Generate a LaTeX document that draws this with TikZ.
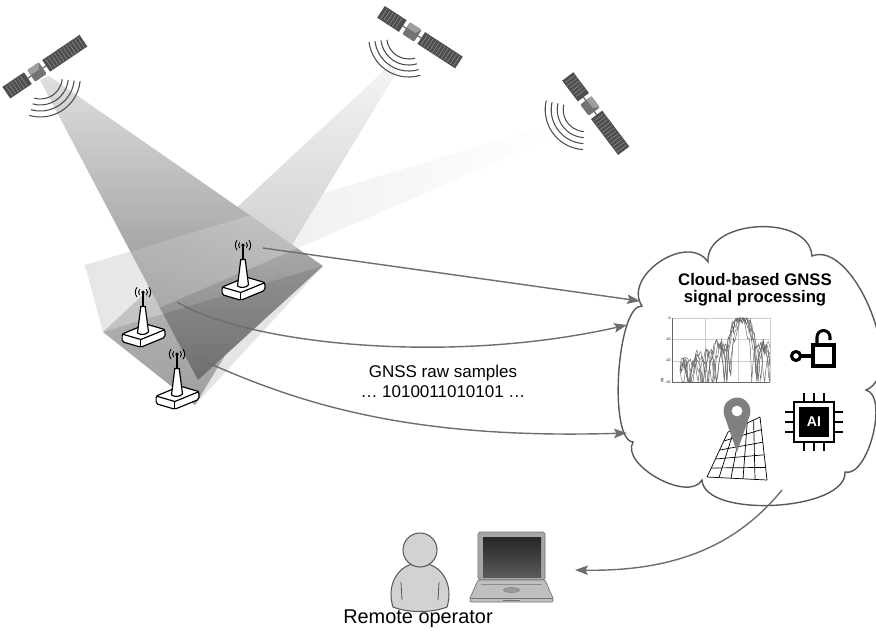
\documentclass[tikz,border=0pt]{standalone}
\usepackage{fontspec}
\setmainfont{Liberation Sans}
\usetikzlibrary{arrows.meta,calc}

\definecolor{linegray}{HTML}{6E6E6E}
\definecolor{panelgray}{HTML}{4E4E4E}
\definecolor{cellgray}{HTML}{8C8C8C}
\definecolor{pingray}{HTML}{808080}
\definecolor{skin}{HTML}{D2D2D2}

\tikzset{
  conn/.style={draw=linegray, line width=1.2pt, -{Stealth[length=11pt,width=8pt,inset=2pt]}},
  wave/.style={draw=black!70, line width=0.9pt},
  icon/.style={line width=2.6pt},
  pics/satellite/.style={code={
    % rod and solar panels
    \draw[black!60, line width=1pt] (-11,0) -- (11,0);
    \fill[panelgray] (-37,-7) rectangle (-11,7);
    \fill[panelgray] (11,-7) rectangle (56,7);
    \foreach \cx in {-33.5,-30,...,-13}
      \draw[cellgray, line width=0.5pt] (\cx,-6) -- (\cx,6);
    \foreach \cx in {14.5,18,...,53}
      \draw[cellgray, line width=0.5pt] (\cx,-6) -- (\cx,6);
    % body
    \fill[black!55, rounded corners=1pt] (-7,-7) rectangle (7,7);
    \fill[black!38] (-7,-7) -- (7,-7) -- (3,-1) -- (-7,-1) -- cycle;
    % signal
    \foreach \r in {22,28,34,40}
      \draw[wave] ($(0,6)+(40:\r)$) arc[start angle=40, end angle=140, radius=\r];
  }},
  pics/receiver/.style={code={
    % base
    \draw[fill=white, line width=1pt, rounded corners=1.5pt]
      (-19,0) -- (3,-9) -- (20,-4) -- (20,3) -- (-2,12) -- (-19,7) -- cycle;
    \draw[line width=1pt] (-19,0) -- (-2,5) -- (20,-4);
    \draw[line width=1pt] (-2,5) -- (-2,12);
    % mast
    \draw[fill=white, line width=1pt] (-5,-1) -- (-2,-25) -- (2,-25) -- (5,-2)
      .. controls (3,1) and (-3,1) .. (-5,-1) -- cycle;
    \draw[line width=1pt] (0,-25) -- (0,-37);
    \fill (0,-38) circle[radius=1.7];
    \foreach \r in {4,7}{
      \draw[line width=0.75pt] ($(0,-38)+(140:\r)$) arc[start angle=140, end angle=220, radius=\r];
      \draw[line width=0.75pt] ($(0,-38)+(-40:\r)$) arc[start angle=-40, end angle=40, radius=\r];
    }
  }}
}

\begin{document}
\begin{tikzpicture}[x=0.03cm, y=-0.03cm]
    \useasboundingbox (0,0) rectangle (876,630);
    % Beams and footprint
    \shade[fill opacity=0.85, top color=black!15, middle color=black!55, bottom color=black!60]
      (40,80) -- (198,380) -- (323,266) -- (49,76) -- cycle;
    \shade[fill opacity=0.55, top color=black!8, bottom color=black!55]
      (389,66) -- (103,332) -- (195,405) -- (398,70) -- cycle;
    \shade[fill opacity=0.4, left color=black!25, right color=white]
      (553,124) -- (85,265) -- (103,332) -- (558,136) -- cycle;
    \fill[black, fill opacity=0.1] (103,332) -- (195,405) -- (323,266) -- cycle;
    % Satellites
    \pic[rotate=34] at (37,72) {satellite};
    \pic[rotate=-33] at (412,32) {satellite};
    \pic[rotate=-53] at (590,106) {satellite};
    % Receivers
    \pic[scale=1.1] at (243,287) {receiver};
    \pic[scale=1.1] at (143,334) {receiver};
    \pic[scale=1.1] at (177,396) {receiver};
    \coordinate (r1) at (263,248);
    \coordinate (r2) at (177,302);
    \coordinate (r3) at (195,357);
    % Cloud
    \draw[draw=black!65, line width=1.2pt, fill=white] (642,306)
      .. controls (622,276) and (688,232) .. (708,262)
      .. controls (705,219) and (809,213) .. (812,256)
      .. controls (854,239) and (908,373) .. (866,390)
      .. controls (889,396) and (868,478) .. (845,472)
      .. controls (847,511) and (704,519) .. (702,480)
      .. controls (689,503) and (620,465) .. (633,442)
      .. controls (608,440) and (617,304) .. (642,306) -- cycle;
    \coordinate (in1) at (640,301);
    \coordinate (in2) at (627,325);
    \coordinate (in3) at (627,433);
    \coordinate (out) at (782,490);
    \node[font=\bfseries\fontsize{14.3}{15}\selectfont, anchor=base] (title1) at (755,285) {Cloud-based GNSS};
    \node[font=\bfseries\fontsize{14.3}{15}\selectfont, anchor=base] (title2) at (755,302) {signal processing};
    % Correlation plot
    \foreach \gx in {672,705,738,770}
      \draw[black!20, line width=0.3pt] (\gx,318) -- (\gx,382);
    \foreach \gy in {318,339.3,360.7}
      \draw[black!20, line width=0.3pt] (672,\gy) -- (770,\gy);
    \draw[black!60, line width=0.4pt] (672,318) -- (672,382) -- (770,382);
    \foreach \v/\gy in {0/318,-10/339.3,-20/360.7,-30/382}
      \node[font=\fontsize{3}{3}\selectfont, anchor=east, inner sep=1pt] (tick\gy) at (672,\gy) {\v};
    \node[font=\fontsize{3}{3}\selectfont, rotate=90, inner sep=0pt] (dblab) at (662,380) {dB};
    \pgfmathsetseed{7}
    \foreach \cc/\k in {0.683/6.2, 0.671/5.6, 0.702/6.8, 0.659/7.1, 0.694/5.1, 0.715/6.5}
      \draw[black!60, line width=0.4pt] plot[domain=0:1, samples=70, variable=\u]
        ({680+90*\u}, {318-2.13*max(-30,min(0,20*log10(abs(sin(180*\k*(\u-\cc))/(pi*\k*(\u-\cc)))+0.01)+3*rand))});
    % Unlock icon
    \draw[icon] (796,356) circle[radius=4.5];
    \draw[icon] (801,356) -- (813,356);
    \draw[icon] (813,345) rectangle (834,366);
    \draw[icon] (817,345) -- (817,337) arc[start angle=180, end angle=360, radius=6.5] -- (830,340);
    % AI chip
    \draw[line width=2pt] (794,402) rectangle (834,442);
    \fill (799,407) rectangle (829,437);
    \node[text=white, font=\bfseries\fontsize{12}{12}\selectfont] (ai) at (814,422) {AI};
    \foreach \p in {804,814,824} {
      \draw[line width=2pt] (\p,393) -- (\p,402);
      \draw[line width=2pt] (\p,442) -- (\p,451);
    }
    \foreach \p in {412,422,432} {
      \draw[line width=2pt] (785,\p) -- (794,\p);
      \draw[line width=2pt] (834,\p) -- (843,\p);
    }
    % Map grid and pin
    \foreach \t in {0,0.2,...,1.01} {
      \draw[line width=0.6pt] ($(728,432)!\t!(760,417)$) -- ($(707,477)!\t!(767,480)$);
      \draw[line width=0.6pt] ($(728,432)!\t!(707,477)$) -- ($(760,417)!\t!(767,480)$);
    }
    \fill[pingray, even odd rule] (737,452) -- ($(737,411)+(19.2:13.5)$)
      arc[start angle=19.2, end angle=-199.2, radius=13.5] -- cycle
      (737,411) circle[radius=5.5];
    % Raw sample streams
    \draw[conn] (r1) -- (in1);
    \draw[conn] (r2) .. controls (250,345) and (450,365) .. (in2);
    \draw[conn] (r3) .. controls (290,400) and (400,440) .. (in3);
    \node[font=\fontsize{14.5}{17}\selectfont, anchor=base] (rawtitle) at (443,377) {GNSS raw samples};
    \node[font=\fontsize{14.5}{17}\selectfont, anchor=base] (rawbits) at (443,397) {\dots\ 1010011010101 \dots};
    % Remote operator
    \draw[fill=skin, draw=black!65, line width=0.9pt] (393,607)
      .. controls (386,585) and (398,563) .. (420,563)
      .. controls (442,563) and (454,585) .. (447,607)
      .. controls (432,613) and (408,613) .. (393,607) -- cycle;
    \draw[black!65, line width=0.7pt] (401,582) -- (402,600);
    \draw[black!65, line width=0.7pt] (439,582) -- (438,600);
    \draw[fill=skin, draw=black!65, line width=0.9pt] (420,550) circle[radius=17];
    % Laptop
    \draw[fill=black!35, draw=black!55, line width=0.6pt, rounded corners=1.5pt] (478,532) rectangle (545,580);
    \shade[top color=black!85, bottom color=black!65] (483,537) rectangle (541,577);
    \draw[fill=black!25, draw=black!55, line width=0.6pt, rounded corners=1pt]
      (478,580) -- (545,580) -- (553,598) -- (553,602) -- (470,602) -- (470,598) -- cycle;
    \draw[black!55, line width=0.5pt] (470,598) -- (553,598);
    \draw[black!45, line width=0.4pt] (481,584) -- (542,584);
    \draw[black!50, fill=black!40, line width=0.4pt] (511.5,590) ellipse[x radius=8, y radius=2.5];
    \draw[black!55, line width=0.8pt] (503,600) -- (520,600);
    \coordinate (lap) at (575,570);
    \draw[conn] (out) .. controls (745,535) and (690,572) .. (lap);
    \node[font=\fontsize{17}{19}\selectfont, anchor=base] (opname) at (418,623) {Remote operator};
\end{tikzpicture}
\end{document}
